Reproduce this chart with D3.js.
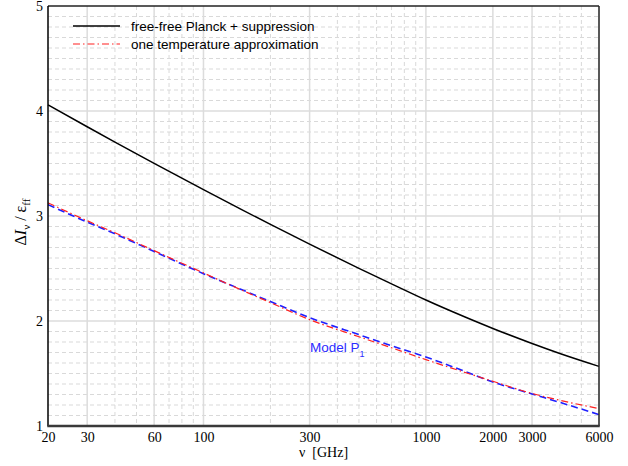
<!DOCTYPE html>
<html>
<head>
<meta charset="utf-8">
<script src="https://cdn.jsdelivr.net/npm/d3@7"></script>
<style>
  html, body { margin: 0; padding: 0; background: #fff; }
  svg { display: block; }
</style>
</head>
<body>
<div id="chart"></div>
<script>
// ---- data ----
const freqs = [20, 30, 40, 60, 100, 150, 200, 300, 500, 700, 1000, 1500, 2000, 3000, 4000, 6000];
const planckSuppression = [4.058, 3.85, 3.704, 3.502, 3.251, 3.056, 2.92, 2.732, 2.501, 2.354, 2.20, 2.038, 1.929, 1.786, 1.691, 1.568];
const oneTemperature = [3.125, 2.955, 2.84, 2.67, 2.458, 2.29, 2.175, 2.013, 1.85, 1.745, 1.632, 1.51, 1.426, 1.31, 1.245, 1.166];
const modelP1 = [3.108, 2.942, 2.83, 2.662, 2.451, 2.295, 2.185, 2.032, 1.87, 1.765, 1.657, 1.52, 1.419, 1.305, 1.225, 1.109];
const xTickValues = [20, 30, 60, 100, 300, 1000, 2000, 3000, 6000];
const xMinorValues = [40, 50, 70, 80, 90, 200, 400, 500, 600, 700, 800, 900, 4000, 5000];
const yTickValues = [1, 2, 3, 4, 5];
const legendLabels = ["free-free Planck + suppression", "one temperature approximation"];

// ---- layout ----
const W = 628, H = 466;
const m = { left: 48, right: 29, top: 6, bottom: 40 };
const pw = W - m.left - m.right, ph = H - m.top - m.bottom;

const svg = d3.select("#chart").append("svg").attr("width", W).attr("height", H);
const g = svg.append("g").attr("transform", `translate(${m.left},${m.top})`);

const x = d3.scaleLog().domain([20, 6000]).range([0, pw]);
const y = d3.scaleLinear().domain([1, 5]).range([ph, 0]);

// minor horizontal dashed grid (every 0.1)
const yMinor = d3.range(1, 40).map(i => 1 + i / 10).filter(v => Math.abs(v - Math.round(v)) > 1e-6);
g.append("g").selectAll("line").data(yMinor).join("line")
  .attr("x1", 0).attr("x2", pw)
  .attr("y1", d => y(d)).attr("y2", d => y(d))
  .attr("stroke", "#d9d9d9").attr("stroke-width", 1).attr("stroke-dasharray", "4,3");
// minor vertical dashed grid
g.append("g").selectAll("line").data(xMinorValues).join("line")
  .attr("x1", d => x(d)).attr("x2", d => x(d))
  .attr("y1", 0).attr("y2", ph)
  .attr("stroke", "#d9d9d9").attr("stroke-width", 1).attr("stroke-dasharray", "4,3");
// major grid
g.append("g").selectAll("line").data([2, 3, 4]).join("line")
  .attr("x1", 0).attr("x2", pw)
  .attr("y1", d => y(d)).attr("y2", d => y(d))
  .attr("stroke", "#dcdcdc").attr("stroke-width", 1.5);
g.append("g").selectAll("line").data(xTickValues.filter(v => v !== 20 && v !== 6000)).join("line")
  .attr("x1", d => x(d)).attr("x2", d => x(d))
  .attr("y1", 0).attr("y2", ph)
  .attr("stroke", "#dcdcdc").attr("stroke-width", 1.5);

// series
const lineGen = vals => d3.line().x((d, i) => x(freqs[i])).y(d => y(d)).curve(d3.curveMonotoneX)(vals);
g.append("path").attr("d", lineGen(planckSuppression))
  .attr("fill", "none").attr("stroke", "#000").attr("stroke-width", 1.5);
g.append("path").attr("d", lineGen(modelP1))
  .attr("fill", "none").attr("stroke", "#1f1fff").attr("stroke-width", 1.6).attr("stroke-dasharray", "7,4");
g.append("path").attr("d", lineGen(oneTemperature))
  .attr("fill", "none").attr("stroke", "#ff2020").attr("stroke-width", 1.2).attr("stroke-dasharray", "7,3,1.5,3");

// frame
g.append("line").attr("x1", 0).attr("x2", pw).attr("y1", 0).attr("y2", 0).attr("stroke", "#222").attr("stroke-width", 1.5);
g.append("line").attr("x1", pw).attr("x2", pw).attr("y1", 0).attr("y2", ph).attr("stroke", "#222").attr("stroke-width", 1.5);
g.append("line").attr("x1", 0).attr("x2", 0).attr("y1", 0).attr("y2", ph).attr("stroke", "#000").attr("stroke-width", 1.5);
g.append("line").attr("x1", -0.75).attr("x2", pw + 0.75).attr("y1", ph).attr("y2", ph).attr("stroke", "#3a3a3a").attr("stroke-width", 2.5);

// axes via d3 (ticks/labels only)
const xAxis = d3.axisBottom(x).tickValues(xTickValues).tickFormat(d3.format("d")).tickSize(0).tickPadding(6);
const xa = g.append("g").attr("transform", `translate(0,${ph})`).call(xAxis);
xa.select(".domain").remove();
xa.selectAll("text").attr("font-family", "'Liberation Serif', 'Times New Roman', serif").attr("font-size", 14).attr("fill", "#000");

const yAxis = d3.axisLeft(y).tickValues(yTickValues).tickFormat(d3.format("d")).tickSize(0).tickPadding(5);
const ya = g.append("g").call(yAxis);
ya.select(".domain").remove();
ya.selectAll("text").attr("font-family", "'Liberation Serif', 'Times New Roman', serif").attr("font-size", 14).attr("fill", "#000");

// axis titles
svg.append("text").attr("x", m.left + pw / 2).attr("y", 457)
  .attr("text-anchor", "middle")
  .attr("font-family", "'Liberation Serif', 'Times New Roman', serif").attr("font-size", 14)
  .style("white-space", "pre")
  .text("ν  [GHz]");

const yl = svg.append("text").attr("transform", "translate(26,222) rotate(-90)")
  .attr("text-anchor", "middle")
  .attr("font-family", "'Liberation Serif', 'Times New Roman', serif").attr("font-size", 16)
  .style("white-space", "pre");
yl.append("tspan").text("Δ");
yl.append("tspan").attr("font-style", "italic").text("I");
yl.append("tspan").attr("font-size", 11).attr("dy", 4).text("ν");
yl.append("tspan").attr("dy", -4).text(" / ε");
yl.append("tspan").attr("font-size", 11).attr("dy", 4).text("ff");

// legend
const legend = svg.append("g").attr("font-family", "'Liberation Sans', Arial, sans-serif").attr("font-size", 13.5);
const legStyles = [
  { stroke: "#000", width: 1.5, dash: null },
  { stroke: "#ff2020", width: 1.2, dash: "7,3,1.5,3" }
];
legendLabels.forEach((lab, i) => {
  const yy = 26 + i * 18;
  legend.append("line").attr("x1", 73).attr("x2", 120).attr("y1", yy).attr("y2", yy)
    .attr("stroke", legStyles[i].stroke).attr("stroke-width", legStyles[i].width)
    .attr("stroke-dasharray", legStyles[i].dash);
  legend.append("text").attr("x", 131).attr("y", yy + 4.5).attr("fill", "#000").text(lab);
});

// Model P1 annotation
const ann = svg.append("text").attr("x", 310).attr("y", 352)
  .attr("font-family", "'Liberation Sans', Arial, sans-serif").attr("font-size", 13.5).attr("fill", "#2b2bff");
ann.append("tspan").text("Model P");
ann.append("tspan").attr("font-size", 9).attr("dy", 5).text("1");
</script>
</body>
</html>
